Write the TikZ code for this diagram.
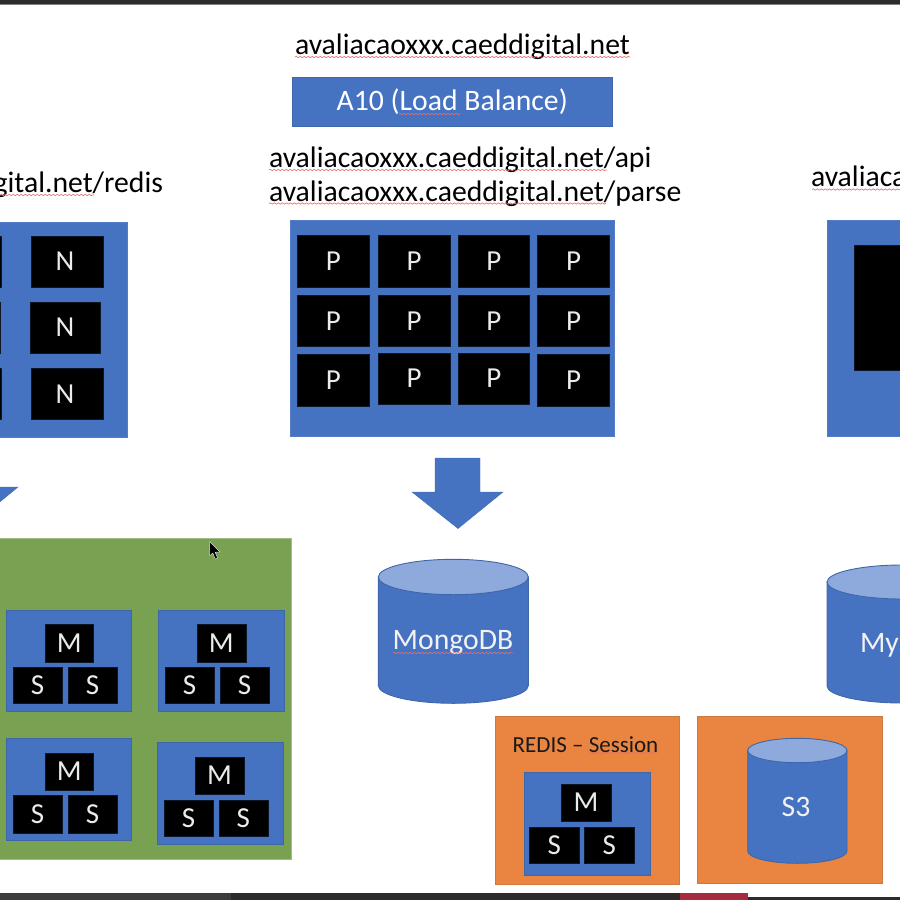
\documentclass[tikz,border=0pt]{standalone}
\usepackage{fontspec}
\setmainfont{Carlito}
\usetikzlibrary{decorations.pathmorphing}
\definecolor{mainblue}{HTML}{4672C2}
\definecolor{capblue}{HTML}{8EA9DB}
\definecolor{edgeblue}{HTML}{3F66A8}
\definecolor{orangebox}{HTML}{E98540}
\definecolor{orangeedge}{HTML}{CC7A40}
\definecolor{greenbox}{HTML}{78A152}
\definecolor{barcol}{HTML}{2C2C2C}
\definecolor{barred}{HTML}{A62B3F}
\definecolor{squigcol}{HTML}{E07070}
\tikzset{
  x=1pt,y=-1pt,
  boxbase/.style={rectangle,inner sep=0pt,outer sep=0pt,align=center},
  panel/.style={boxbase,fill=mainblue,draw=mainblue!92!white,line width=.5pt},
  lbpanel/.style={boxbase,fill=mainblue,text=white,font=\fontsize{29.7}{29.7}\selectfont,draw=edgeblue,line width=.4pt},
  unitpanel/.style={boxbase,fill=mainblue,draw=edgeblue,line width=.7pt},
  blackbox/.style={boxbase,fill=black,text=white!92!black,draw=black!80!mainblue,line width=.4pt,font=\fontsize{29}{29}\selectfont},
  smallbox/.style={boxbase,fill=black,text=white!92!black,draw=black!80!mainblue,line width=.4pt,font=\fontsize{29}{29}\selectfont},
  greenpanel/.style={boxbase,fill=greenbox,draw=greenbox!70!white,line width=.7pt},
  orangepanel/.style={boxbase,fill=orangebox,draw=orangeedge,line width=.7pt},
  urltext/.style={inner sep=0pt,outer sep=0pt,text=black,font=\fontsize{29.7}{29.7}\selectfont},
  cyltext/.style={inner sep=0pt,outer sep=0pt,text=white!95!black,font=\fontsize{29.7}{29.7}\selectfont},
  sessiontext/.style={inner sep=0pt,outer sep=0pt,text=black!90,font=\fontsize{23}{23}\selectfont},
  squig/.style={draw=squigcol,line width=.6pt,decorate,decoration={snake,segment length=4pt,amplitude=.7pt}},
  blockarrow/.style={fill=mainblue,draw=edgeblue!60!mainblue,line width=.4pt},
  cylbody/.style={fill=mainblue,draw=edgeblue,line width=.9pt},
  cylcap/.style={fill=capblue,draw=edgeblue,line width=.9pt},
}
% \bx{name}{style}{x1}{y1}{x2}{y2}{text}
\newcommand{\bx}[7]{%
  \pgfmathsetmacro{\bxcx}{(#3+#5)/2}\pgfmathsetmacro{\bxcy}{(#4+#6)/2}%
  \pgfmathsetmacro{\bxw}{#5-#3}\pgfmathsetmacro{\bxh}{#6-#4}%
  \node[#2,minimum width=\bxw pt,minimum height=\bxh pt] (#1) at (\bxcx,\bxcy) {#7};%
}
% \cyl{l}{r}{top}{capbottom}{bottom}
\newcommand{\cyl}[5]{%
  \pgfmathsetmacro{\cyc}{(#1+#2)/2}\pgfmathsetmacro{\cyrx}{(#2-#1)/2}%
  \pgfmathsetmacro{\cyry}{(#4-#3)/2}\pgfmathsetmacro{\cym}{#3+\cyry}%
  \pgfmathsetmacro{\cyb}{#5-\cyry}\pgfmathsetmacro{\cyk}{0.55*\cyry}\pgfmathsetmacro{\cyq}{0.55*\cyrx}%
  \draw[cylbody] (#1,\cym) -- (#1,\cyb) .. controls (#1,\cyb+\cyk) and (\cyc-\cyq,#5) .. (\cyc,#5)
     .. controls (\cyc+\cyq,#5) and (#2,\cyb+\cyk) .. (#2,\cyb) -- (#2,\cym) -- cycle;%
  \draw[cylcap] (#1,\cym) .. controls (#1,\cym-\cyk) and (\cyc-\cyq,#3) .. (\cyc,#3)
     .. controls (\cyc+\cyq,#3) and (#2,\cym-\cyk) .. (#2,\cym)
     .. controls (#2,\cym+\cyk) and (\cyc+\cyq,#4) .. (\cyc,#4)
     .. controls (\cyc-\cyq,#4) and (#1,\cym+\cyk) .. (#1,\cym) -- cycle;%
}
\begin{document}
\begin{tikzpicture}
\useasboundingbox (0,0) rectangle (900,900);
\clip (0,0) rectangle (900,900);
\fill[white] (0,0) rectangle (900,900);

% window bars
\fill[barcol] (0,0) rectangle (900,4);
\fill[barcol!60!white] (0,4) rectangle (900,4.6);
\fill[barcol!92!white] (0,893) rectangle (231,900);
\fill[barcol] (231,893) rectangle (680,900);
\fill[barcol] (748,896.5) rectangle (900,900);
\fill[barred] (680,893) rectangle (748,900);

% top
\node[urltext,anchor=base west] (title) at (295,54) {avaliacaoxxx.caeddigital.net};
\draw[squig] (295,57) -- (630,57);
\bx{lb}{lbpanel}{292}{77.5}{612.5}{126.5}{\raisebox{0pt}[20pt][4pt]{A10 (Load Balance)}}
\draw[squig] (399,114) -- (460,114);

% centre urls
\node[urltext,anchor=base west] (api) at (269,167.5) {avaliacaoxxx.caeddigital.net/api};
\draw[squig] (269,170) -- (607,170);
\node[urltext,anchor=base west] (parse) at (269,201.5) {avaliacaoxxx.caeddigital.net/parse};
\draw[squig] (269,203.5) -- (606,203.5);

% left url
\node[urltext,anchor=base east] (redisurl) at (163,192) {gital.net/redis};
\draw[squig] (0,195) -- (94,195);

% right url
\node[urltext,anchor=base west] (rurl) at (811,186.5) {avaliaca};
\draw[squig] (812,189.5) -- (900,189.5);

% N panel
\bx{npanel}{panel}{-30}{222}{127.5}{437.5}{}
\bx{nl1}{blackbox}{-40}{236}{1}{287}{}
\bx{nl2}{blackbox}{-40}{302}{0}{353}{}
\bx{nl3}{blackbox}{-40}{368}{1}{419.5}{}
\bx{n1}{blackbox}{31}{236}{103}{287}{\kern-4pt N}
\bx{n2}{blackbox}{30}{302}{100}{353}{N}
\bx{n3}{blackbox}{31}{368}{103}{419.5}{\kern-4pt N}

% P panel
\bx{ppanel}{panel}{290}{220}{614.5}{436}{}
\bx{p11}{blackbox}{297.5}{235.5}{369}{287}{P}
\bx{p12}{blackbox}{378}{235.5}{450}{287}{P}
\bx{p13}{blackbox}{458.5}{235.5}{529}{287}{P}
\bx{p14}{blackbox}{537.5}{235.5}{609.5}{287}{P}
\bx{p21}{blackbox}{297.5}{295}{369}{346.5}{P}
\bx{p22}{blackbox}{378}{295}{450}{346.5}{P}
\bx{p23}{blackbox}{458.5}{295}{529}{346.5}{P}
\bx{p24}{blackbox}{537.5}{295}{609.5}{346.5}{P}
\bx{p31}{blackbox}{297.5}{354}{369}{405.7}{P}
\bx{p32}{blackbox}{378}{352.7}{450}{404.3}{P}
\bx{p33}{blackbox}{458.5}{352.7}{529}{404.3}{P}
\bx{p34}{blackbox}{537.5}{354}{609.5}{405.7}{P}

% right panel
\bx{rpanel}{panel}{827}{220}{930}{436}{}
\bx{rblack}{blackbox}{854}{245}{930}{370}{}

% block arrows
\draw[blockarrow] (435,458) -- (480,458) -- (480,492) -- (503,492) -- (458,528.5) -- (412,492) -- (435,492) -- cycle;
\draw[blockarrow] (-50,452) -- (-5,452) -- (-5,487) -- (18,487) -- (-27,524) -- (-73,487) -- (-50,487) -- cycle;

% green panel
\bx{green}{greenpanel}{-30}{538}{291.5}{859}{}
\bx{ua}{unitpanel}{6}{610.7}{131.7}{711}{}
\bx{uam}{smallbox}{45}{624}{93.3}{661.7}{M}
\bx{uas}{smallbox}{13.3}{667.3}{61.7}{703.3}{S}
\bx{uat}{smallbox}{68.3}{667.3}{116.7}{703.3}{S}
\bx{ub}{unitpanel}{158.3}{610.7}{284}{711}{}
\bx{ubm}{smallbox}{196.7}{624}{246}{661.7}{M}
\bx{ubs}{smallbox}{165}{667.3}{214.3}{703.3}{S}
\bx{ubt}{smallbox}{220}{667.3}{269.3}{703.3}{S}
\bx{uc}{unitpanel}{6}{738.3}{131.7}{840.3}{}
\bx{ucm}{smallbox}{45}{753.3}{93.3}{789.7}{M}
\bx{ucs}{smallbox}{13.3}{795.3}{61.7}{832.7}{S}
\bx{uct}{smallbox}{68.3}{795.3}{116.7}{832.7}{S}
\bx{ud}{unitpanel}{157}{742.3}{283.3}{844}{}
\bx{udm}{smallbox}{195.3}{756.7}{243.7}{794}{M}
\bx{uds}{smallbox}{164}{800}{213.3}{836.3}{S}
\bx{udt}{smallbox}{218.7}{800}{268}{836.3}{S}

% mouse cursor
\draw[fill=black,draw=white!85!black,line width=.5pt,line join=round] (209.5,541.5) -- (209.5,556) -- (212.8,553) -- (215.2,559) -- (217.6,558) -- (215.2,552.3) -- (220,552) -- cycle;

% MongoDB
\cyl{378.3}{528.3}{559.3}{594.7}{703.3}
\node[cyltext] (mongo) at (453,642.5) {MongoDB};
\draw[squig] (393,653) -- (513,653);

% MySQL
\cyl{827}{977}{565}{599}{703}
\node[cyltext,anchor=base west] (mysql) at (860,652) {MyS};

% orange panels
\bx{o1}{orangepanel}{495}{716}{679.3}{884}{}
\node[sessiontext] (sess) at (585.5,745) {REDIS -- Session};
\draw[squig] (590,753) -- (658,753);
\bx{ue}{unitpanel}{524}{772}{650}{875}{}
\bx{uem}{smallbox}{561.3}{783.7}{610.7}{821.3}{M}
\bx{ues}{smallbox}{529.3}{826.7}{579.3}{863.3}{S}
\bx{uet}{smallbox}{584.3}{826.7}{634.3}{863.3}{S}
\bx{o2}{orangepanel}{697.7}{716}{882}{883.3}{}
\cyl{747.7}{847}{738.3}{762.7}{863.3}
\node[cyltext] (s3) at (796,807) {S3};
\end{tikzpicture}
\end{document}
